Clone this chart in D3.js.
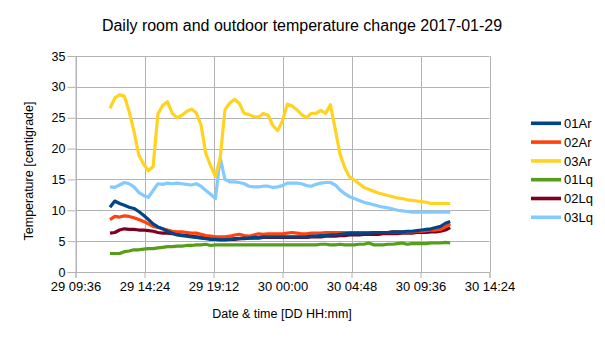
<!DOCTYPE html>
<html>
<head>
<meta charset="utf-8">
<script src="https://cdn.jsdelivr.net/npm/d3@7"></script>
<style>
  html, body { margin: 0; padding: 0; background: #fff; }
  svg { display: block; font-family: "Liberation Sans", Arial, sans-serif; }
</style>
</head>
<body>
<svg id="chart" width="605" height="340"></svg>
<script>
// ---- data ----
const title = "Daily room and outdoor temperature change 2017-01-29";
const xTitle = "Date & time [DD HH:mm]";
const yTitle = "Temperature [centigrade]";
const seriesNames = ["01Ar", "02Ar", "03Ar", "01Lq", "02Lq", "03Lq"];
const seriesColors = ["#004586", "#ff420e", "#ffd320", "#579d1c", "#7e0021", "#83caff"];
const startTime = "2017-01-29 12:00";
const stepMinutes = 20;
const yTicks = [0, 5, 10, 15, 20, 25, 30, 35];
const xTickLabels = ["29 09:36", "29 14:24", "29 19:12", "30 00:00", "30 04:48", "30 09:36", "30 14:24"];

const s01Ar = [10.5,11.5,11.1,10.8,10.5,10.3,9.8,9.2,8.5,7.8,
  7.3,7.0,6.6,6.3,6.0,5.9,5.8,5.7,5.6,5.5,
  5.4,5.3,5.3,5.2,5.2,5.3,5.4,5.4,5.5,5.5,
  5.6,5.6,5.7,5.7,5.7,5.7,5.7,5.7,5.7,5.7,
  5.7,5.7,5.8,5.8,5.9,5.9,6.0,6.0,6.1,6.2,
  6.3,6.3,6.3,6.3,6.3,6.4,6.4,6.4,6.4,6.5,
  6.5,6.5,6.6,6.6,6.7,6.8,6.9,7.0,7.2,7.4,7.9,8.2];
const s02Ar = [8.5,9.0,8.9,9.1,9.0,8.8,8.5,8.2,7.8,7.4,
  7.2,7.0,6.8,6.6,6.5,6.5,6.4,6.3,6.3,6.1,
  5.9,5.8,5.7,5.7,5.7,5.8,6.0,6.1,5.9,5.8,
  6.0,6.2,6.1,6.2,6.2,6.2,6.2,6.3,6.4,6.3,
  6.2,6.2,6.3,6.3,6.3,6.4,6.4,6.4,6.4,6.4,
  6.4,6.4,6.4,6.4,6.4,6.4,6.4,6.4,6.4,6.5,
  6.5,6.5,6.5,6.5,6.6,6.6,6.7,6.8,6.8,6.9,7.3,7.8];
const s03Ar = [26.5,28.2,28.7,28.5,26.0,22.8,19.0,17.5,16.4,17.1,
  25.6,27.0,27.6,25.7,25.0,25.4,26.0,26.4,25.8,23.8,
  19.2,17.2,15.5,18.5,26.3,27.4,28.0,27.3,25.7,25.5,
  25.2,25.1,25.7,25.4,23.7,22.9,24.5,27.2,26.9,26.3,
  25.5,25.0,25.7,25.7,26.2,25.7,27.1,23.2,19.1,16.9,
  15.4,14.9,14.3,13.7,13.4,13.1,12.8,12.6,12.4,12.2,
  12.0,11.9,11.7,11.6,11.5,11.4,11.3,11.1,11.1,11.1,11.1,11.1];
const s01Lq = [3.0,3.0,3.0,3.3,3.4,3.6,3.6,3.7,3.8,3.8,
  3.9,4.0,4.1,4.1,4.2,4.2,4.3,4.3,4.4,4.4,
  4.5,4.3,4.4,4.4,4.4,4.4,4.4,4.4,4.4,4.4,
  4.4,4.4,4.4,4.4,4.4,4.4,4.4,4.4,4.4,4.4,
  4.4,4.4,4.4,4.4,4.5,4.5,4.4,4.4,4.5,4.4,
  4.4,4.4,4.5,4.5,4.7,4.4,4.4,4.4,4.5,4.5,
  4.6,4.7,4.5,4.6,4.6,4.6,4.6,4.7,4.7,4.7,4.8,4.7];
const s02Lq = [6.3,6.4,6.8,7.0,6.9,6.9,6.8,6.8,6.7,6.6,
  6.4,6.3,6.3,6.2,6.1,6.0,5.9,5.8,5.7,5.6,
  5.5,5.4,5.4,5.3,5.3,5.3,5.3,5.4,5.4,5.5,
  5.5,5.5,5.6,5.6,5.6,5.6,5.6,5.6,5.6,5.6,
  5.6,5.6,5.7,5.7,5.7,5.8,5.8,5.8,5.9,5.9,
  6.0,6.0,6.0,6.1,6.1,6.1,6.1,6.2,6.2,6.2,
  6.2,6.3,6.3,6.3,6.4,6.4,6.4,6.5,6.5,6.6,6.8,7.2];
const s03Lq = [13.8,13.7,14.1,14.5,14.3,13.8,12.9,12.4,12.1,13.2,
  14.3,14.2,14.4,14.3,14.4,14.3,14.2,14.1,14.3,13.9,
  13.2,12.6,11.9,18.5,15.0,14.6,14.6,14.5,14.3,13.9,
  13.8,13.8,13.9,13.9,13.7,13.8,14.0,14.4,14.4,14.4,
  14.3,14.0,13.9,14.2,14.4,14.5,14.5,14.1,13.3,12.7,
  12.2,11.9,11.6,11.3,11.1,10.9,10.7,10.5,10.4,10.2,
  10.0,9.9,9.8,9.7,9.7,9.7,9.7,9.7,9.7,9.7,9.7,9.7];
const seriesValues = [s01Ar, s02Ar, s03Ar, s01Lq, s02Lq, s03Lq];

// ---- chart ----
const parse = d3.timeParse("%Y-%m-%d %H:%M");
const parseTick = d3.timeParse("%Y-%m %d %H:%M");
const t0 = parse(startTime);
const times = s01Ar.map((_, i) => d3.timeMinute.offset(t0, i * stepMinutes));
const tickDates = xTickLabels.map(s => parseTick("2017-01 " + s));

const svg = d3.select("#chart");
const m = { left: 75.5, right: 489.5, top: 56, bottom: 272 };

const x = d3.scaleTime().domain([tickDates[0], tickDates[tickDates.length - 1]]).range([m.left, m.right]);
const y = d3.scaleLinear().domain([0, 35]).range([m.bottom, m.top]);

const grid = "#b3b3b3";

// horizontal grid
svg.append("g").selectAll("line").data(yTicks).join("line")
  .attr("x1", m.left).attr("x2", m.right)
  .attr("y1", d => Math.round(y(d)) + 0.5).attr("y2", d => Math.round(y(d)) + 0.5)
  .attr("stroke", grid).attr("stroke-width", 1);
// vertical grid
svg.append("g").selectAll("line").data(tickDates).join("line")
  .attr("x1", d => Math.round(x(d)) + 0.5).attr("x2", d => Math.round(x(d)) + 0.5)
  .attr("y1", m.top).attr("y2", m.bottom)
  .attr("stroke", grid).attr("stroke-width", 1);

// axes
const fmt = d3.timeFormat("%d %H:%M");
const yAxis = svg.append("g").attr("transform", `translate(${m.left},0)`)
  .call(d3.axisLeft(y).tickValues(yTicks).tickSize(8).tickPadding(2).tickFormat(d3.format("d")));
const xAxis = svg.append("g").attr("transform", `translate(0,${m.bottom})`)
  .call(d3.axisBottom(x).tickValues(tickDates).tickSize(6).tickPadding(4).tickFormat(fmt));
[yAxis, xAxis].forEach(a => {
  a.selectAll("path").attr("stroke", grid);
  a.selectAll("line").attr("stroke", grid);
  a.selectAll("text").attr("fill", "#000").style("font-family", "'Liberation Sans', Arial, sans-serif");
});
yAxis.selectAll("text").style("font-size", "12.5px");
xAxis.selectAll("text").style("font-size", "13px");

// lines
const line = d3.line().x((d, i) => x(times[i])).y(d => y(d));
const order = d3.range(seriesNames.length).reverse();
svg.append("g").selectAll("path").data(order).join("path")
  .attr("d", i => line(seriesValues[i]))
  .attr("fill", "none")
  .attr("stroke", i => seriesColors[i])
  .attr("stroke-width", 3.2)
  .attr("stroke-linejoin", "round")
  .attr("stroke-linecap", "butt");

// titles
svg.append("text").attr("x", 302).attr("y", 31).attr("text-anchor", "middle")
  .style("font-size", "16px").attr("fill", "#000").text(title);
svg.append("text").attr("x", 282).attr("y", 318).attr("text-anchor", "middle")
  .style("font-size", "12.5px").attr("fill", "#000").text(xTitle);
svg.append("text").attr("transform", "translate(33,171) rotate(-90)").attr("text-anchor", "middle")
  .style("font-size", "12.5px").attr("fill", "#000").text(yTitle);

// legend
const lg = svg.append("g").selectAll("g").data(seriesNames).join("g")
  .attr("transform", (d, i) => `translate(531,${123.3 + i * 18.8})`);
lg.append("line").attr("x1", 0).attr("x2", 30).attr("y1", 0).attr("y2", 0)
  .attr("stroke", (d, i) => seriesColors[i]).attr("stroke-width", 3.6);
lg.append("text").attr("x", 33).attr("y", 4.6).style("font-size", "13px").attr("fill", "#000").text(d => d);
</script>
</body>
</html>
